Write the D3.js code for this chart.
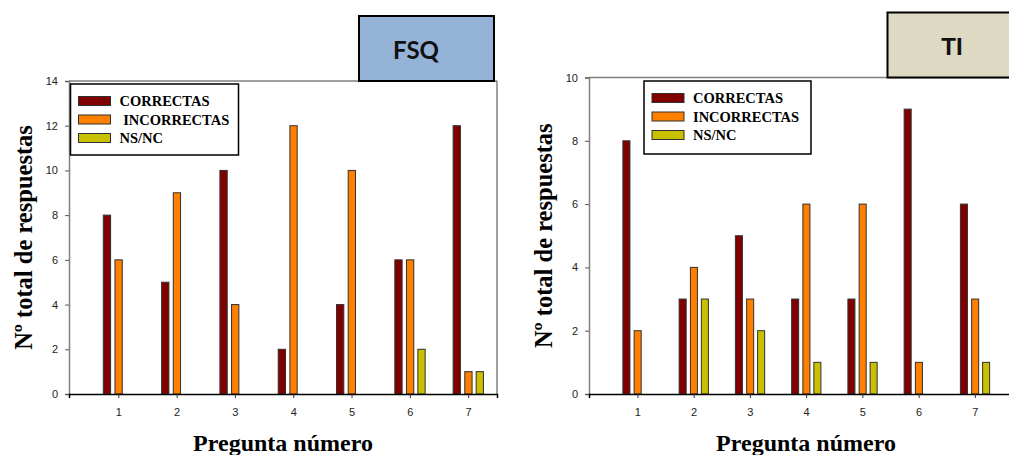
<!DOCTYPE html>
<html><head><meta charset="utf-8">
<script src="https://cdn.jsdelivr.net/npm/d3@7"></script>
<style>body{margin:0;background:#fff}svg{display:block}</style>
</head><body>
<svg id="c" width="1009" height="455"></svg>
<script>
const questions = [1, 2, 3, 4, 5, 6, 7];
const seriesNames = ["CORRECTAS", "INCORRECTAS", "NS/NC"];
const legendLabelsFSQ = ["CORRECTAS", " INCORRECTAS", "NS/NC"];
const legendLabelsTI = ["CORRECTAS", "INCORRECTAS", "NS/NC"];
const fsqCorrectas = [8, 5, 10, 2, 4, 6, 12];
const fsqIncorrectas = [6, 9, 4, 12, 10, 6, 1];
const fsqNsnc = [0, 0, 0, 0, 0, 2, 1];
const tiCorrectas = [8, 3, 5, 3, 3, 9, 6];
const tiIncorrectas = [2, 4, 3, 6, 6, 1, 3];
const tiNsnc = [0, 3, 2, 1, 1, 0, 1];
const fsqYTicks = [0, 2, 4, 6, 8, 10, 12, 14];
const tiYTicks = [0, 2, 4, 6, 8, 10];
const colors = ["#800000", "#FF8000", "#C8C000"];
const yLabel = "Nº total de respuestas";
const xLabel = "Pregunta número";

const svg = d3.select("#c");
const serif = "'Liberation Serif','Times New Roman',serif";
const sans = "'Liberation Sans',Arial,sans-serif";

function chart(o) {
  const x = d3.scaleLinear().domain(o.xDomain).range([o.left, o.right]);
  const y = d3.scaleLinear().domain([0, o.yMax]).range([o.bottom, o.top]);
  const g = svg.append("g");
  const series = [o.c, o.i, o.n];
  const offsets = [-0.195, 0.005, 0.2];
  const bw = 0.125;
  g.append("line").attr("x1", o.left).attr("x2", o.right).attr("y1", o.top).attr("y2", o.top)
    .attr("stroke", "#808080").attr("stroke-width", 1.5);
  if (o.rightBorder) g.append("line").attr("x1", o.right).attr("x2", o.right).attr("y1", o.top).attr("y2", o.bottom)
    .attr("stroke", "#808080").attr("stroke-width", 1.5);
  series.forEach((vals, si) => {
    g.selectAll(null).data(questions.map((q, k) => ({q, v: vals[k]})).filter(d => d.v > 0))
      .enter().append("rect")
      .attr("x", d => x(d.q + offsets[si] - bw / 2))
      .attr("width", d => x(d.q + bw) - x(d.q))
      .attr("y", d => y(d.v))
      .attr("height", d => y(0) - y(d.v))
      .attr("fill", colors[si]).attr("stroke", "#303030").attr("stroke-width", 1);
  });
  const ya = g.append("g").attr("transform", `translate(${o.left},0)`)
    .call(d3.axisLeft(y).tickValues(o.yTicks).tickSize(4).tickPadding(7));
  ya.select(".domain").attr("stroke", "#808080").attr("stroke-width", 1.5);
  ya.selectAll(".tick line").attr("stroke", "#555");
  ya.selectAll("text").attr("font-family", sans).attr("font-size", 11).attr("fill", "#222");
  const xa = g.append("g").attr("transform", `translate(0,${o.bottom})`)
    .call(d3.axisBottom(x).tickValues(questions).tickFormat(d3.format("d")).tickSize(4).tickPadding(10));
  xa.select(".domain").attr("stroke", "#000").attr("stroke-width", 1.5);
  xa.selectAll(".tick line").attr("stroke", "#333");
  xa.selectAll("text").attr("font-family", sans).attr("font-size", 11).attr("fill", "#222");
  g.append("text").attr("transform", `translate(${o.yLabelX},${(o.top + o.bottom) / 2}) rotate(-90)`)
    .attr("text-anchor", "middle").attr("dominant-baseline", "central")
    .attr("font-family", serif).attr("font-weight", "bold").attr("font-size", 24.5).text(yLabel);
  g.append("text").attr("x", o.xLabelX).attr("y", 451)
    .attr("text-anchor", "middle").attr("font-family", serif).attr("font-weight", "bold").attr("font-size", 24).text(xLabel);
  const L = o.legend;
  g.append("rect").attr("x", L.x).attr("y", L.y).attr("width", L.w).attr("height", L.h)
    .attr("fill", "#fff").attr("stroke", "#000").attr("stroke-width", 1.5);
  seriesNames.forEach((s, k) => {
    const cy = L.y + 17 + k * 18.5;
    g.append("rect").attr("x", L.x + 8).attr("y", cy - 4.5).attr("width", 32).attr("height", 9)
      .attr("fill", colors[k]).attr("stroke", "#303030").attr("stroke-width", 1);
    g.append("text").attr("x", L.x + 49).attr("y", cy + 5).attr("xml:space", "preserve")
      .style("white-space", "pre")
      .attr("font-family", serif).attr("font-weight", "bold").attr("font-size", 14.5).text(o.legendLabels[k]);
  });
  const T = o.title;
  g.append("rect").attr("x", T.x).attr("y", T.y).attr("width", T.w).attr("height", T.h)
    .attr("fill", T.fill).attr("stroke", "#000").attr("stroke-width", 2);
  g.append("text").attr("x", T.tx).attr("y", T.y + T.h / 2 + 1).attr("text-anchor", "middle")
    .attr("dominant-baseline", "central").attr("font-family", T.font).attr("font-weight", "bold")
    .attr("font-size", T.size).attr("fill", "#111").text(T.text);
}

chart({
  left: 69, right: 497, top: 81, bottom: 394, xDomain: [0.154, 7.495], yMax: 14, yTicks: fsqYTicks,
  c: fsqCorrectas, i: fsqIncorrectas, n: fsqNsnc, rightBorder: true,
  yLabelX: 23, xLabelX: 283,
  legend: {x: 70.5, y: 84, w: 168, h: 71}, legendLabels: legendLabelsFSQ,
  title: {x: 359, y: 16, w: 135, h: 65, fill: "#95B3D7", tx: 416, text: "FSQ", font: "Lato,'Open Sans',sans-serif", size: 24}
});
chart({
  left: 589, right: 1030, top: 77.5, bottom: 394, xDomain: [0.14, 7.98], yMax: 10, yTicks: tiYTicks,
  c: tiCorrectas, i: tiIncorrectas, n: tiNsnc, rightBorder: false,
  yLabelX: 543, xLabelX: 806,
  legend: {x: 644, y: 81, w: 167, h: 73}, legendLabels: legendLabelsTI,
  title: {x: 887.5, y: 12.5, w: 140, h: 65, fill: "#DDD9C3", tx: 952, text: "TI", font: sans, size: 24}
});
</script>
</body></html>
